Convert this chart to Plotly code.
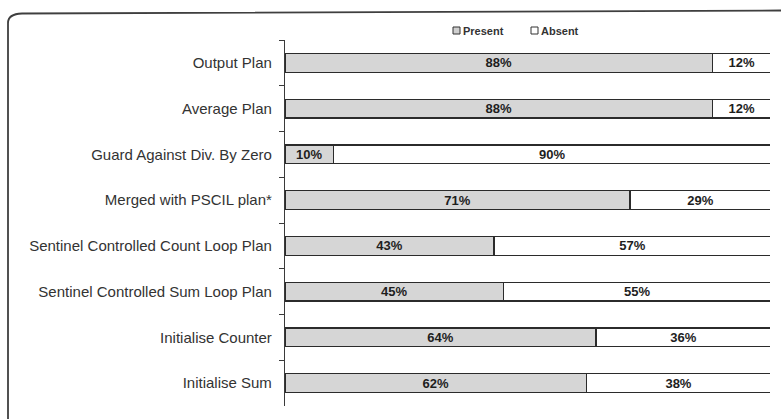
import plotly.graph_objects as go

# Share of solutions in which each plan element is present / absent (percent)
categories = [
    "Output Plan",
    "Average Plan",
    "Guard Against Div. By Zero",
    "Merged with PSCIL plan*",
    "Sentinel Controlled Count Loop Plan",
    "Sentinel Controlled Sum Loop Plan",
    "Initialise Counter",
    "Initialise Sum",
]
present = [88, 88, 10, 71, 43, 45, 64, 62]
absent = [12, 12, 90, 29, 57, 55, 36, 38]

W, H = 781, 419
M_LEFT, M_RIGHT, M_TOP, M_BOTTOM = 285, 11, 40, 13
PLOT_W = W - M_LEFT - M_RIGHT
PLOT_H = H - M_TOP - M_BOTTOM


def px_x(x):
    """Pixel column -> paper x."""
    return (x - M_LEFT) / PLOT_W


def px_y(y):
    """Pixel row -> paper y."""
    return 1 - (y - M_TOP) / PLOT_H


LINE = "#2b2b2b"
FAMILY = "Liberation Sans, Arial, sans-serif"
LABEL_FONT = dict(family=FAMILY, size=13, color="#1e1e1e")

fig = go.Figure()
fig.add_trace(go.Bar(
    y=categories, x=present, name="Present", orientation="h",
    marker=dict(color="#d6d6d6", line=dict(color=LINE, width=1.3)),
    text=[f"<b>{v}%</b>" for v in present], textposition="inside",
    insidetextanchor="middle", textfont=LABEL_FONT, textangle=0,
    constraintext="none",
))
fig.add_trace(go.Bar(
    y=categories, x=absent, name="Absent", orientation="h",
    marker=dict(color="#ffffff", line=dict(color=LINE, width=1.3)),
    text=[f"<b>{v}%</b>" for v in absent], textposition="inside",
    insidetextanchor="middle", textfont=LABEL_FONT, textangle=0,
    constraintext="none",
))

# Outer frame: top edge with a rounded top-left corner and the left edge
frame = (
    f"M {px_x(8)},{px_y(419)} L {px_x(8)},{px_y(23)} "
    f"Q {px_x(8)},{px_y(14)} {px_x(22)},{px_y(13.5)} "
    f"L {px_x(781)},{px_y(10.5)}"
)
shapes = [dict(type="path", xref="paper", yref="paper", path=frame,
               line=dict(color="#3f3f3f", width=1.8))]

# Compact legend: small boxes followed by their labels
legend_items = [("Present", "#cfcfcf", 453), ("Absent", "#ffffff", 531)]
annotations = []
for name, fill, x0 in legend_items:
    shapes.append(dict(type="rect", xref="paper", yref="paper",
                       x0=px_x(x0), x1=px_x(x0 + 7), y0=px_y(34), y1=px_y(27),
                       fillcolor=fill, line=dict(color="#333333", width=1)))
    annotations.append(dict(xref="paper", yref="paper", x=px_x(x0 + 8), y=px_y(30.5),
                            text=f"<b>{name}</b>", showarrow=False,
                            xanchor="left", yanchor="middle",
                            font=dict(family=FAMILY, size=11, color="#333333")))

fig.update_layout(
    width=W, height=H,
    margin=dict(l=M_LEFT, r=M_RIGHT, t=M_TOP, b=M_BOTTOM),
    barmode="stack", bargap=0.59,
    showlegend=False,
    paper_bgcolor="white", plot_bgcolor="white",
    shapes=shapes, annotations=annotations,
    font=dict(family=FAMILY),
)
fig.update_xaxes(range=[0, 99.8], visible=False, showgrid=False, zeroline=False)
fig.update_yaxes(
    autorange="reversed", showline=True, linecolor="#3a3a3a", linewidth=1.3,
    ticks="outside", ticklen=5, tickcolor="#3a3a3a", tickson="boundaries",
    ticklabelstandoff=9, showgrid=False,
    tickfont=dict(family=FAMILY, size=15, color="#333333"),
)

fig.write_html("out.html")
